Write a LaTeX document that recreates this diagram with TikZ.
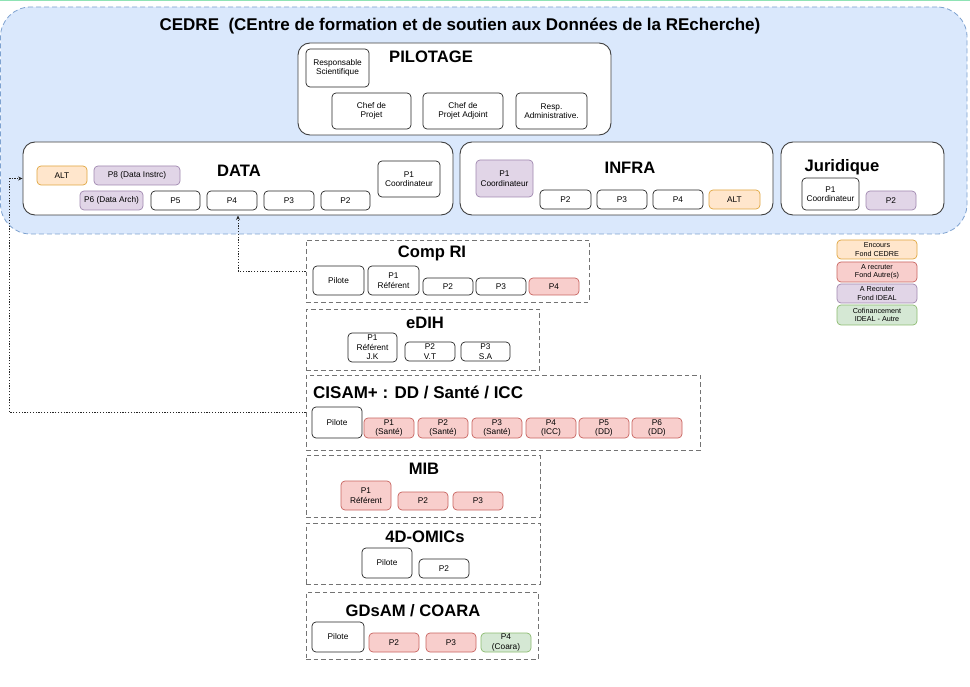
\documentclass[tikz,border=0pt]{standalone}
\usepackage{fontspec}
\setmainfont{Liberation Sans}
\usetikzlibrary{arrows.meta}
\definecolor{bluef}{HTML}{DAE8FC}
\definecolor{blued}{HTML}{7EA2D0}
\definecolor{orgf}{HTML}{FFE6CC}
\definecolor{orgd}{HTML}{E0A640}
\definecolor{redf}{HTML}{F8CECC}
\definecolor{redd}{HTML}{C86460}
\definecolor{purf}{HTML}{E1D5E7}
\definecolor{purd}{HTML}{A088B0}
\definecolor{grnf}{HTML}{D5E8D4}
\definecolor{grnd}{HTML}{8CBB70}
\definecolor{topgreen}{HTML}{8FE3B5}
\newcommand\bx[7]{\node[#6, minimum width={(#4-#2)*1pt}, minimum height={(#5-#3)*1pt}] (#1) at ({(#2+#4)/2},{(#3+#5)/2}) {#7};}
\tikzset{
  small/.style={draw=black!85, rounded corners=4pt, line width=0.7pt, fill=white, inner sep=0pt, align=center, font=\fontsize{8.3}{9.4}\selectfont},
  orgbox/.style={small, fill=orgf, draw=orgd},
  redbox/.style={small, fill=redf, draw=redd},
  purbox/.style={small, fill=purf, draw=purd},
  grnbox/.style={small, fill=grnf, draw=grnd},
  legbox/.style={font=\fontsize{7.2}{8.4}\selectfont},
  grp/.style={draw=black!75, rounded corners=12pt, line width=0.9pt, fill=white, inner sep=0pt},
  dgrp/.style={draw=black!55, dash pattern=on 4.5pt off 3pt, line width=0.8pt, inner sep=0pt},
  outer/.style={draw=blued, fill=bluef, dash pattern=on 5pt off 3pt, line width=0.8pt, rounded corners=30pt, inner sep=0pt},
  ttl/.style={font=\bfseries\fontsize{16.6}{18}\selectfont, inner sep=0pt},
  conn/.style={draw=black!85, line width=0.8pt, dash pattern=on 1.2pt off 1.6pt, -{Stealth[length=4.5pt,width=4pt]}}
}
\begin{document}
\begin{tikzpicture}[x=1pt,y=-1pt]
\useasboundingbox (0,0) rectangle (970,687);
\fill[white] (0,0) rectangle (970,687);
\draw[topgreen, line width=1.2pt] (0,0.6) -- (970,0.6);

% CEDRE outer
\bx{cedre}{0.5}{7}{967}{234}{outer}{}
\node[ttl, font=\bfseries\fontsize{17}{18}\selectfont] (cedret) at (460,26) {CEDRE\ \ (CEntre de formation et de soutien aux Données de la REcherche)};

% PILOTAGE
\bx{pil}{298}{43}{611}{135}{grp}{}
\node[ttl] (pilt) at (431,57) {PILOTAGE};
\bx{rs}{306}{49}{369}{87}{small}{Responsable\\Scientifique}
\bx{cp}{332}{93}{411}{129}{small}{Chef de\\Projet}
\bx{cpa}{423}{93}{503}{129}{small}{Chef de\\Projet Adjoint}
\bx{ra}{516}{93}{587}{129}{small}{Resp.\\Administrative.}

% DATA
\bx{data}{23}{142}{453}{215}{grp}{}
\node[ttl] (datat) at (239,171) {DATA};
\bx{dalt}{37}{166}{87}{185}{orgbox}{ALT}
\bx{dp8}{94}{166}{180}{185}{purbox}{\raisebox{2pt}{P8 (Data Instrc)}}
\bx{dp6}{80}{191}{143}{210}{purbox}{P6 (Data Arch)}
\bx{dp5}{151}{191}{200}{210}{small}{P5}
\bx{dp4}{207}{191}{257}{210}{small}{P4}
\bx{dp3}{264}{191}{314}{210}{small}{P3}
\bx{dp2}{321}{191}{370}{210}{small}{P2}
\bx{dp1}{378}{161}{440}{197}{small}{P1\\Coordinateur}

% INFRA
\bx{infra}{460}{142}{773}{215}{grp}{}
\node[ttl] (infrat) at (630,168) {INFRA};
\bx{ip1}{476}{160}{533}{197}{purbox}{P1\\Coordinateur}
\bx{ip2}{540}{190}{591}{209}{small}{P2}
\bx{ip3}{597}{190}{647}{209}{small}{P3}
\bx{ip4}{653}{190}{703}{209}{small}{P4}
\bx{ialt}{709}{190}{760}{209}{orgbox}{ALT}

% Juridique
\bx{jur}{781}{142}{944}{215}{grp}{}
\node[ttl] (jurt) at (842,167) {Juridique};
\bx{jp1}{802}{178}{859}{210}{small}{P1\\Coordinateur}
\bx{jp2}{866}{191}{916}{210}{purbox}{P2}

% Comp RI
\bx{comp}{306}{240}{589}{302}{dgrp}{}
\node[ttl] (compt) at (432,253) {Comp RI};
\bx{crp}{313}{266}{364}{295}{small}{Pilote}
\bx{crp1}{368}{266}{419}{295}{small}{P1\\Référent}
\bx{crp2}{423}{278}{473}{295}{small}{P2}
\bx{crp3}{476}{278}{526}{295}{small}{P3}
\bx{crp4}{529}{278}{579}{295}{redbox}{P4}

% eDIH
\bx{edih}{306}{309}{539}{370}{dgrp}{}
\node[ttl] (ediht) at (425,323) {eDIH};
\bx{ep1}{348}{333}{397}{362}{small}{P1\\Référent\\J.K}
\bx{ep2}{405}{342}{455}{361}{small}{P2\\V.T}
\bx{ep3}{461}{342}{510}{361}{small}{P3\\S.A}

% CISAM
\bx{cisam}{306}{375}{700}{450}{dgrp}{}
\node[ttl, anchor=west, font=\bfseries\fontsize{17}{18}\selectfont] (cisamt) at (313,392) {CISAM+ : DD / Santé / ICC};
\bx{cs0}{312}{407}{362}{438}{small}{Pilote}
\bx{cs1}{364}{418}{414}{438}{redbox}{P1\\(Santé)}
\bx{cs2}{418}{418}{468}{438}{redbox}{P2\\(Santé)}
\bx{cs3}{472}{418}{522}{438}{redbox}{P3\\(Santé)}
\bx{cs4}{526}{418}{576}{438}{redbox}{P4\\(ICC)}
\bx{cs5}{579}{418}{629}{438}{redbox}{P5\\(DD)}
\bx{cs6}{632}{418}{682}{438}{redbox}{P6\\(DD)}

% MIB
\bx{mib}{306}{455}{540}{517}{dgrp}{}
\node[ttl] (mibt) at (424,469) {MIB};
\bx{m1}{341}{481}{391}{510}{redbox}{P1\\Référent}
\bx{m2}{398}{492}{448}{510}{redbox}{P2}
\bx{m3}{453}{492}{503}{510}{redbox}{P3}

% 4D-OMICs
\bx{omics}{306}{523}{540}{584}{dgrp}{}
\node[ttl] (omicst) at (425,537) {4D-OMICs};
\bx{o1}{362}{548}{412}{578}{small}{Pilote}
\bx{o2}{419}{559}{469}{578}{small}{P2}

% GDsAM / COARA
\bx{gds}{306}{592}{538}{659}{dgrp}{}
\node[ttl] (gdst) at (413,611) {GDsAM / COARA};
\bx{g0}{312}{622}{364}{652}{small}{Pilote}
\bx{g2}{369}{633}{419}{652}{redbox}{P2}
\bx{g3}{426}{633}{476}{652}{redbox}{P3}
\bx{g4}{481}{633}{531}{652}{grnbox}{P4\\(Coara)}

% Legend
\bx{l1}{837}{240}{917}{259}{orgbox,legbox}{Encours\\Fond CEDRE}
\bx{l2}{837}{262}{917}{282}{redbox,legbox}{A recruter\\Fond Autre(s)}
\bx{l3}{837}{284}{917}{303}{purbox,legbox}{A Recruter\\Fond IDEAL}
\bx{l4}{837}{305}{917}{325}{grnbox,legbox}{Cofinancement\\IDEAL - Autre}

% connectors
\coordinate (d4in) at (238,215.5);
\draw[conn] (comp.west) -| (d4in);
\draw[conn] (cisam.west) -- ++(-296,0) |- (data.west);
\end{tikzpicture}
\end{document}
